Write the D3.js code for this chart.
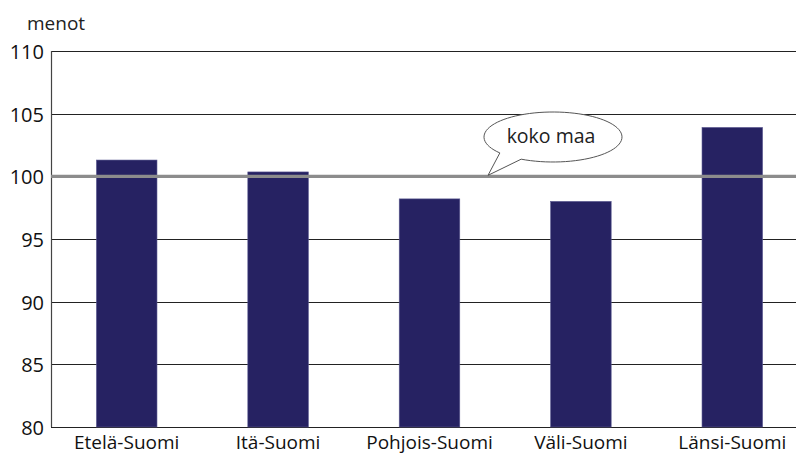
<!DOCTYPE html>
<html>
<head>
<meta charset="utf-8">
<script src="https://cdn.jsdelivr.net/npm/d3@7"></script>
<style>
  body { margin: 0; background: #fff; }
  svg { display: block; font-family: "Open Sans", "Noto Sans", sans-serif; }
</style>
</head>
<body>
<svg id="chart" width="796" height="455"></svg>
<script>
var regions = ["Etelä-Suomi", "Itä-Suomi", "Pohjois-Suomi", "Väli-Suomi", "Länsi-Suomi"]
var menot = [101.3, 100.35, 98.2, 98.0, 103.9]
var yTicks = [80, 85, 90, 95, 100, 105, 110]
var wholeCountry = 100

var svg = d3.select("#chart")
var margin = {left: 51, top: 51, bottom: 427}

var x = d3.scaleBand().domain(regions).range([margin.left, 808]).paddingInner(0.6).paddingOuter(0.3)
var y = d3.scaleLinear().domain([80, 110]).range([margin.bottom, margin.top])

// gridlines
svg.append("g")
  .selectAll("line")
  .data(yTicks)
  .join("line")
  .attr("x1", margin.left).attr("x2", 796)
  .attr("y1", function(d) { return Math.round(y(d)) + 0.5 })
  .attr("y2", function(d) { return Math.round(y(d)) + 0.5 })
  .attr("stroke", "#222").attr("stroke-width", 1)

// y axis line
svg.append("line")
  .attr("x1", margin.left + 0.5).attr("x2", margin.left + 0.5)
  .attr("y1", y(110)).attr("y2", y(80))
  .attr("stroke", "#444").attr("stroke-width", 1.2)

// y labels
svg.append("g")
  .selectAll("text")
  .data(yTicks)
  .join("text")
  .attr("x", 44)
  .attr("y", function(d) { return y(d) + 8 })
  .attr("text-anchor", "end")
  .attr("font-size", 20)
  .attr("fill", "#111")
  .text(function(d) { return d })

svg.append("text")
  .attr("x", 27).attr("y", 30)
  .attr("font-size", 19).attr("fill", "#222")
  .text("menot")

// bars
svg.append("g")
  .selectAll("rect")
  .data(menot)
  .join("rect")
  .attr("x", function(d, i) { return x(regions[i]) })
  .attr("width", x.bandwidth())
  .attr("y", function(d) { return y(d) })
  .attr("height", function(d) { return y(80) - y(d) })
  .attr("fill", "#262262")
  .attr("stroke", "#5a5890").attr("stroke-width", 0.6)

// whole country line
svg.append("line")
  .attr("x1", margin.left).attr("x2", 796)
  .attr("y1", y(wholeCountry)).attr("y2", y(wholeCountry))
  .attr("stroke", "#8c8c8c").attr("stroke-width", 3.2)

// x labels
svg.append("g")
  .selectAll("text")
  .data(regions)
  .join("text")
  .attr("x", function(d) { return x(d) + x.bandwidth() / 2 })
  .attr("y", 449)
  .attr("text-anchor", "middle")
  .attr("font-size", 19)
  .attr("fill", "#111")
  .text(function(d) { return d })

// speech bubble "koko maa"
var bx = 553, by = 137, rx = 69, ry = 25
var tip = [488, y(wholeCountry) - 1]
var a1 = 2.45, a2 = 2.05
var p1 = [bx + rx * Math.cos(a1), by + ry * Math.sin(a1)]
var p2 = [bx + rx * Math.cos(a2), by + ry * Math.sin(a2)]
var bubble = d3.path()
bubble.moveTo(p2[0], p2[1])
bubble.lineTo(tip[0], tip[1])
bubble.lineTo(p1[0], p1[1])
var steps = 80
for (var k = 1; k <= steps; k++) {
  var t = a1 + (2 * Math.PI - (a1 - a2)) * k / steps
  bubble.lineTo(bx + rx * Math.cos(t), by + ry * Math.sin(t))
}
bubble.closePath()
svg.append("path")
  .attr("d", bubble.toString())
  .attr("fill", "#fff")
  .attr("stroke", "#555").attr("stroke-width", 1)

svg.append("text")
  .attr("x", 551).attr("y", 143)
  .attr("text-anchor", "middle")
  .attr("font-size", 19.5).attr("fill", "#222")
  .text("koko maa")
</script>
</body>
</html>
